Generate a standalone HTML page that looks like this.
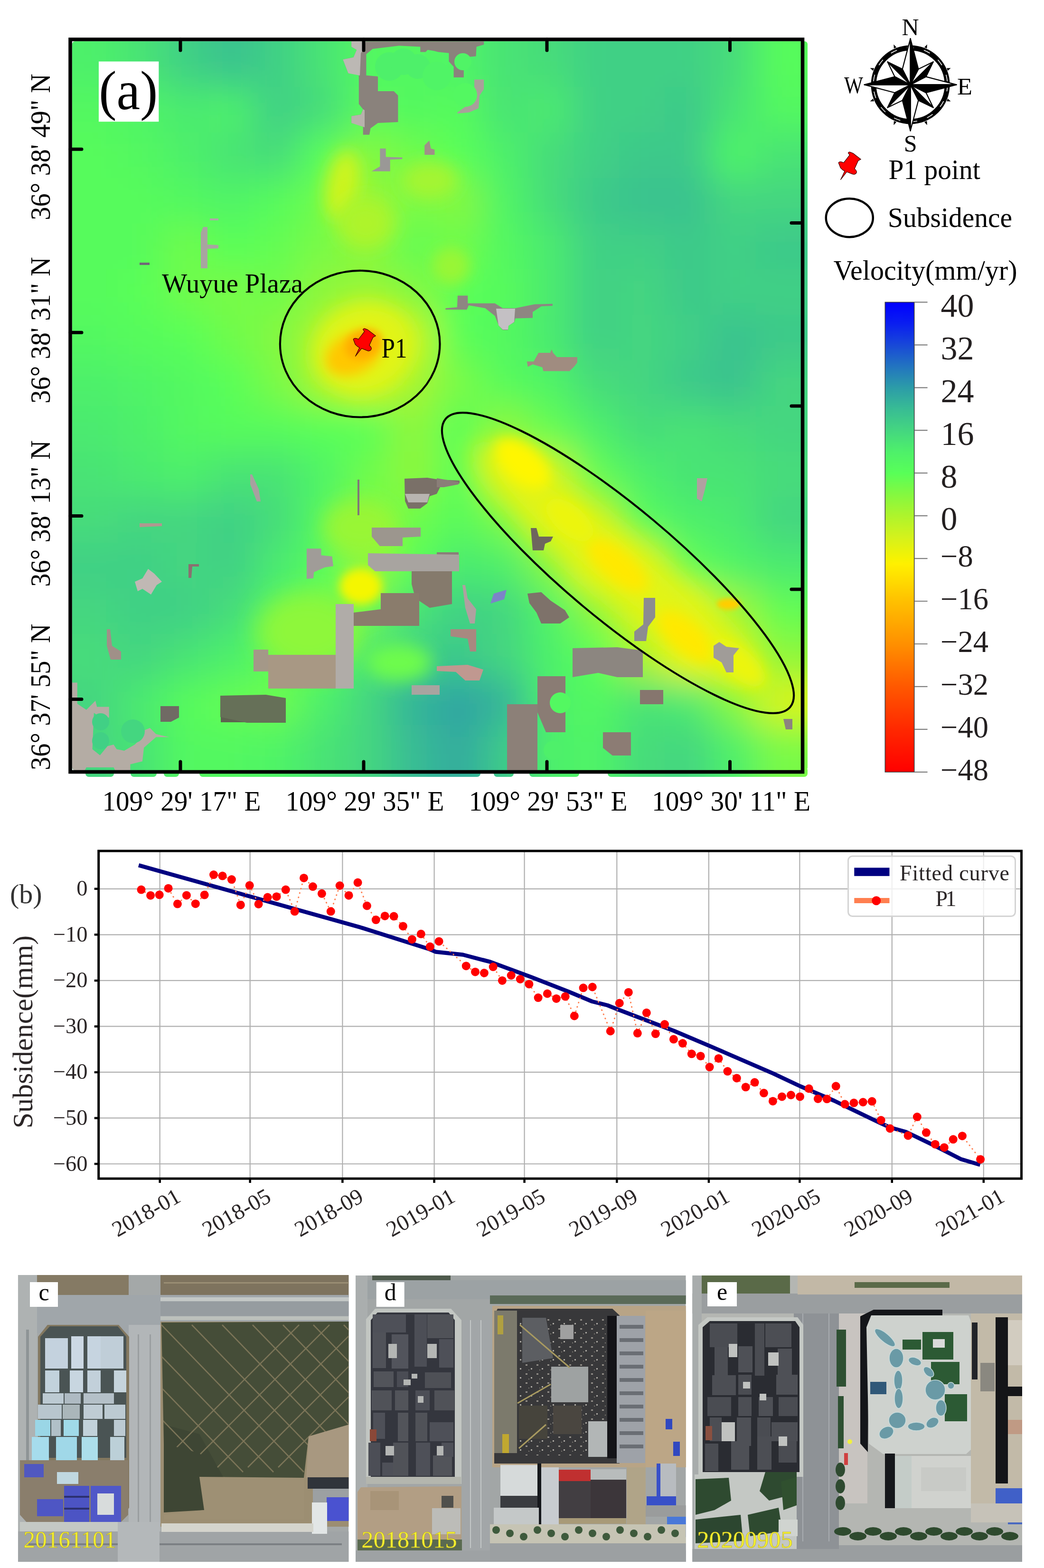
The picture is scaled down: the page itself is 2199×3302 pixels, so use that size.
<!DOCTYPE html><html><head><meta charset="utf-8"><title>Figure</title><style>html,body{margin:0;padding:0;background:#fff;width:2199px;height:3302px;overflow:hidden}svg{display:block}</style></head><body>
<svg width="2199" height="3302" viewBox="0 0 2199 3302">
<rect width="2199" height="3302" fill="#fff"/>
<defs><clipPath id="mapclip"><rect x="152" y="87" width="1549" height="1535" rx="6"/><rect x="180" y="1615" width="60" height="21" rx="7"/><rect x="275" y="1615" width="55" height="21" rx="7"/><rect x="345" y="1615" width="32" height="21" rx="7"/><rect x="420" y="1615" width="592" height="21" rx="7"/><rect x="1040" y="1615" width="42" height="21" rx="7"/><rect x="1115" y="1615" width="105" height="21" rx="7"/><rect x="1280" y="1615" width="421" height="21" rx="7"/></clipPath><clipPath id="innerclip"><rect x="152" y="87" width="1534" height="1535"/></clipPath><filter id="gb" x="-10%" y="-10%" width="120%" height="120%"><feGaussianBlur stdDeviation="38"/></filter></defs>
<filter id="bb0" x="-50%" y="-50%" width="200%" height="200%"><feGaussianBlur stdDeviation="22"/></filter>
<filter id="bb1" x="-50%" y="-50%" width="200%" height="200%"><feGaussianBlur stdDeviation="12"/></filter>
<filter id="bb2" x="-50%" y="-50%" width="200%" height="200%"><feGaussianBlur stdDeviation="8"/></filter>
<filter id="bb3" x="-50%" y="-50%" width="200%" height="200%"><feGaussianBlur stdDeviation="28"/></filter>
<filter id="bb4" x="-50%" y="-50%" width="200%" height="200%"><feGaussianBlur stdDeviation="14"/></filter>
<filter id="bb5" x="-50%" y="-50%" width="200%" height="200%"><feGaussianBlur stdDeviation="14"/></filter>
<filter id="bb6" x="-50%" y="-50%" width="200%" height="200%"><feGaussianBlur stdDeviation="14"/></filter>
<filter id="bb7" x="-50%" y="-50%" width="200%" height="200%"><feGaussianBlur stdDeviation="5"/></filter>
<filter id="bb8" x="-50%" y="-50%" width="200%" height="200%"><feGaussianBlur stdDeviation="12"/></filter>
<filter id="bb9" x="-50%" y="-50%" width="200%" height="200%"><feGaussianBlur stdDeviation="14"/></filter>
<filter id="bb10" x="-50%" y="-50%" width="200%" height="200%"><feGaussianBlur stdDeviation="18"/></filter>
<filter id="bb11" x="-50%" y="-50%" width="200%" height="200%"><feGaussianBlur stdDeviation="20"/></filter>
<filter id="bb12" x="-50%" y="-50%" width="200%" height="200%"><feGaussianBlur stdDeviation="18"/></filter>
<filter id="bb13" x="-50%" y="-50%" width="200%" height="200%"><feGaussianBlur stdDeviation="15"/></filter>
<filter id="bb14" x="-50%" y="-50%" width="200%" height="200%"><feGaussianBlur stdDeviation="25"/></filter>
<filter id="bb15" x="-50%" y="-50%" width="200%" height="200%"><feGaussianBlur stdDeviation="22"/></filter>
<filter id="bb16" x="-50%" y="-50%" width="200%" height="200%"><feGaussianBlur stdDeviation="18"/></filter>
<filter id="bb17" x="-50%" y="-50%" width="200%" height="200%"><feGaussianBlur stdDeviation="10"/></filter>
<g clip-path="url(#mapclip)">
<g filter="url(#gb)"><rect x="56" y="-9" width="97" height="97" fill="#4ef06a"/><rect x="152" y="-9" width="97" height="97" fill="#4ef06a"/><rect x="248" y="-9" width="97" height="97" fill="#49e375"/><rect x="344" y="-9" width="97" height="97" fill="#41d085"/><rect x="440" y="-9" width="97" height="97" fill="#3bc28f"/><rect x="536" y="-9" width="97" height="97" fill="#41d085"/><rect x="632" y="-9" width="97" height="97" fill="#49e375"/><rect x="728" y="-9" width="97" height="97" fill="#53f861"/><rect x="824" y="-9" width="97" height="97" fill="#53f861"/><rect x="920" y="-9" width="97" height="97" fill="#50f466"/><rect x="1016" y="-9" width="97" height="97" fill="#49e375"/><rect x="1112" y="-9" width="97" height="97" fill="#46dc7a"/><rect x="1208" y="-9" width="97" height="97" fill="#41d085"/><rect x="1304" y="-9" width="97" height="97" fill="#41d085"/><rect x="1400" y="-9" width="97" height="97" fill="#41d085"/><rect x="1496" y="-9" width="97" height="97" fill="#46dc7a"/><rect x="1592" y="-9" width="97" height="97" fill="#56fb5c"/><rect x="1688" y="-9" width="97" height="97" fill="#56fb5c"/><rect x="56" y="87" width="97" height="97" fill="#4ef06a"/><rect x="152" y="87" width="97" height="97" fill="#4ef06a"/><rect x="248" y="87" width="97" height="97" fill="#49e375"/><rect x="344" y="87" width="97" height="97" fill="#41d085"/><rect x="440" y="87" width="97" height="97" fill="#3bc28f"/><rect x="536" y="87" width="97" height="97" fill="#41d085"/><rect x="632" y="87" width="97" height="97" fill="#49e375"/><rect x="728" y="87" width="97" height="97" fill="#53f861"/><rect x="824" y="87" width="97" height="97" fill="#53f861"/><rect x="920" y="87" width="97" height="97" fill="#50f466"/><rect x="1016" y="87" width="97" height="97" fill="#49e375"/><rect x="1112" y="87" width="97" height="97" fill="#46dc7a"/><rect x="1208" y="87" width="97" height="97" fill="#41d085"/><rect x="1304" y="87" width="97" height="97" fill="#41d085"/><rect x="1400" y="87" width="97" height="97" fill="#41d085"/><rect x="1496" y="87" width="97" height="97" fill="#46dc7a"/><rect x="1592" y="87" width="97" height="97" fill="#56fb5c"/><rect x="1688" y="87" width="97" height="97" fill="#56fb5c"/><rect x="56" y="183" width="97" height="97" fill="#53f861"/><rect x="152" y="183" width="97" height="97" fill="#53f861"/><rect x="248" y="183" width="97" height="97" fill="#50f466"/><rect x="344" y="183" width="97" height="97" fill="#4cea70"/><rect x="440" y="183" width="97" height="97" fill="#4ef06a"/><rect x="536" y="183" width="97" height="97" fill="#41d085"/><rect x="632" y="183" width="97" height="97" fill="#46dc7a"/><rect x="728" y="183" width="97" height="97" fill="#56fb5c"/><rect x="824" y="183" width="97" height="97" fill="#53f861"/><rect x="920" y="183" width="97" height="97" fill="#56fb5c"/><rect x="1016" y="183" width="97" height="97" fill="#49e375"/><rect x="1112" y="183" width="97" height="97" fill="#4cea70"/><rect x="1208" y="183" width="97" height="97" fill="#41d085"/><rect x="1304" y="183" width="97" height="97" fill="#41d085"/><rect x="1400" y="183" width="97" height="97" fill="#3ec98a"/><rect x="1496" y="183" width="97" height="97" fill="#49e375"/><rect x="1592" y="183" width="97" height="97" fill="#53f861"/><rect x="1688" y="183" width="97" height="97" fill="#53f861"/><rect x="56" y="279" width="97" height="97" fill="#56fb5c"/><rect x="152" y="279" width="97" height="97" fill="#56fb5c"/><rect x="248" y="279" width="97" height="97" fill="#53f861"/><rect x="344" y="279" width="97" height="97" fill="#4ef06a"/><rect x="440" y="279" width="97" height="97" fill="#49e375"/><rect x="536" y="279" width="97" height="97" fill="#46dc7a"/><rect x="632" y="279" width="97" height="97" fill="#58ff58"/><rect x="728" y="279" width="97" height="97" fill="#84f840"/><rect x="824" y="279" width="97" height="97" fill="#6efc4c"/><rect x="920" y="279" width="97" height="97" fill="#58ff58"/><rect x="1016" y="279" width="97" height="97" fill="#4ef06a"/><rect x="1112" y="279" width="97" height="97" fill="#46dc7a"/><rect x="1208" y="279" width="97" height="97" fill="#41d085"/><rect x="1304" y="279" width="97" height="97" fill="#3ec98a"/><rect x="1400" y="279" width="97" height="97" fill="#3ec98a"/><rect x="1496" y="279" width="97" height="97" fill="#50f466"/><rect x="1592" y="279" width="97" height="97" fill="#49e375"/><rect x="1688" y="279" width="97" height="97" fill="#49e375"/><rect x="56" y="375" width="97" height="97" fill="#56fb5c"/><rect x="152" y="375" width="97" height="97" fill="#56fb5c"/><rect x="248" y="375" width="97" height="97" fill="#56fb5c"/><rect x="344" y="375" width="97" height="97" fill="#53f861"/><rect x="440" y="375" width="97" height="97" fill="#50f466"/><rect x="536" y="375" width="97" height="97" fill="#56fb5c"/><rect x="632" y="375" width="97" height="97" fill="#6efc4c"/><rect x="728" y="375" width="97" height="97" fill="#99f636"/><rect x="824" y="375" width="97" height="97" fill="#79fa46"/><rect x="920" y="375" width="97" height="97" fill="#84f840"/><rect x="1016" y="375" width="97" height="97" fill="#50f466"/><rect x="1112" y="375" width="97" height="97" fill="#46dc7a"/><rect x="1208" y="375" width="97" height="97" fill="#3ec98a"/><rect x="1304" y="375" width="97" height="97" fill="#3bc28f"/><rect x="1400" y="375" width="97" height="97" fill="#3bc28f"/><rect x="1496" y="375" width="97" height="97" fill="#44d680"/><rect x="1592" y="375" width="97" height="97" fill="#44d680"/><rect x="1688" y="375" width="97" height="97" fill="#44d680"/><rect x="56" y="471" width="97" height="97" fill="#56fb5c"/><rect x="152" y="471" width="97" height="97" fill="#56fb5c"/><rect x="248" y="471" width="97" height="97" fill="#56fb5c"/><rect x="344" y="471" width="97" height="97" fill="#6efc4c"/><rect x="440" y="471" width="97" height="97" fill="#58ff58"/><rect x="536" y="471" width="97" height="97" fill="#63fd52"/><rect x="632" y="471" width="97" height="97" fill="#79fa46"/><rect x="728" y="471" width="97" height="97" fill="#84f840"/><rect x="824" y="471" width="97" height="97" fill="#63fd52"/><rect x="920" y="471" width="97" height="97" fill="#6efc4c"/><rect x="1016" y="471" width="97" height="97" fill="#53f861"/><rect x="1112" y="471" width="97" height="97" fill="#4cea70"/><rect x="1208" y="471" width="97" height="97" fill="#41d085"/><rect x="1304" y="471" width="97" height="97" fill="#41d085"/><rect x="1400" y="471" width="97" height="97" fill="#3ec98a"/><rect x="1496" y="471" width="97" height="97" fill="#41d085"/><rect x="1592" y="471" width="97" height="97" fill="#3ec98a"/><rect x="1688" y="471" width="97" height="97" fill="#3ec98a"/><rect x="56" y="567" width="97" height="97" fill="#56fb5c"/><rect x="152" y="567" width="97" height="97" fill="#56fb5c"/><rect x="248" y="567" width="97" height="97" fill="#58ff58"/><rect x="344" y="567" width="97" height="97" fill="#6efc4c"/><rect x="440" y="567" width="97" height="97" fill="#79fa46"/><rect x="536" y="567" width="97" height="97" fill="#6efc4c"/><rect x="632" y="567" width="97" height="97" fill="#8ef73b"/><rect x="728" y="567" width="97" height="97" fill="#99f636"/><rect x="824" y="567" width="97" height="97" fill="#84f840"/><rect x="920" y="567" width="97" height="97" fill="#58ff58"/><rect x="1016" y="567" width="97" height="97" fill="#56fb5c"/><rect x="1112" y="567" width="97" height="97" fill="#4cea70"/><rect x="1208" y="567" width="97" height="97" fill="#41d085"/><rect x="1304" y="567" width="97" height="97" fill="#44d680"/><rect x="1400" y="567" width="97" height="97" fill="#3ec98a"/><rect x="1496" y="567" width="97" height="97" fill="#41d085"/><rect x="1592" y="567" width="97" height="97" fill="#41d085"/><rect x="1688" y="567" width="97" height="97" fill="#41d085"/><rect x="56" y="663" width="97" height="97" fill="#53f861"/><rect x="152" y="663" width="97" height="97" fill="#53f861"/><rect x="248" y="663" width="97" height="97" fill="#56fb5c"/><rect x="344" y="663" width="97" height="97" fill="#58ff58"/><rect x="440" y="663" width="97" height="97" fill="#6efc4c"/><rect x="536" y="663" width="97" height="97" fill="#84f840"/><rect x="632" y="663" width="97" height="97" fill="#a4f531"/><rect x="728" y="663" width="97" height="97" fill="#d8f418"/><rect x="824" y="663" width="97" height="97" fill="#c3f422"/><rect x="920" y="663" width="97" height="97" fill="#58ff58"/><rect x="1016" y="663" width="97" height="97" fill="#53f861"/><rect x="1112" y="663" width="97" height="97" fill="#4cea70"/><rect x="1208" y="663" width="97" height="97" fill="#41d085"/><rect x="1304" y="663" width="97" height="97" fill="#44d680"/><rect x="1400" y="663" width="97" height="97" fill="#41d085"/><rect x="1496" y="663" width="97" height="97" fill="#3bc28f"/><rect x="1592" y="663" width="97" height="97" fill="#3ec98a"/><rect x="1688" y="663" width="97" height="97" fill="#3ec98a"/><rect x="56" y="759" width="97" height="97" fill="#4ef06a"/><rect x="152" y="759" width="97" height="97" fill="#4ef06a"/><rect x="248" y="759" width="97" height="97" fill="#50f466"/><rect x="344" y="759" width="97" height="97" fill="#53f861"/><rect x="440" y="759" width="97" height="97" fill="#58ff58"/><rect x="536" y="759" width="97" height="97" fill="#79fa46"/><rect x="632" y="759" width="97" height="97" fill="#a4f531"/><rect x="728" y="759" width="97" height="97" fill="#c3f422"/><rect x="824" y="759" width="97" height="97" fill="#a4f531"/><rect x="920" y="759" width="97" height="97" fill="#79fa46"/><rect x="1016" y="759" width="97" height="97" fill="#56fb5c"/><rect x="1112" y="759" width="97" height="97" fill="#50f466"/><rect x="1208" y="759" width="97" height="97" fill="#46dc7a"/><rect x="1304" y="759" width="97" height="97" fill="#44d680"/><rect x="1400" y="759" width="97" height="97" fill="#3ec98a"/><rect x="1496" y="759" width="97" height="97" fill="#3bc28f"/><rect x="1592" y="759" width="97" height="97" fill="#44d680"/><rect x="1688" y="759" width="97" height="97" fill="#44d680"/><rect x="56" y="855" width="97" height="97" fill="#4cea70"/><rect x="152" y="855" width="97" height="97" fill="#4cea70"/><rect x="248" y="855" width="97" height="97" fill="#4ef06a"/><rect x="344" y="855" width="97" height="97" fill="#53f861"/><rect x="440" y="855" width="97" height="97" fill="#56fb5c"/><rect x="536" y="855" width="97" height="97" fill="#56fb5c"/><rect x="632" y="855" width="97" height="97" fill="#58ff58"/><rect x="728" y="855" width="97" height="97" fill="#58ff58"/><rect x="824" y="855" width="97" height="97" fill="#8ef73b"/><rect x="920" y="855" width="97" height="97" fill="#58ff58"/><rect x="1016" y="855" width="97" height="97" fill="#8ef73b"/><rect x="1112" y="855" width="97" height="97" fill="#63fd52"/><rect x="1208" y="855" width="97" height="97" fill="#4ef06a"/><rect x="1304" y="855" width="97" height="97" fill="#46dc7a"/><rect x="1400" y="855" width="97" height="97" fill="#49e375"/><rect x="1496" y="855" width="97" height="97" fill="#46dc7a"/><rect x="1592" y="855" width="97" height="97" fill="#44d680"/><rect x="1688" y="855" width="97" height="97" fill="#44d680"/><rect x="56" y="951" width="97" height="97" fill="#49e375"/><rect x="152" y="951" width="97" height="97" fill="#49e375"/><rect x="248" y="951" width="97" height="97" fill="#4cea70"/><rect x="344" y="951" width="97" height="97" fill="#4ef06a"/><rect x="440" y="951" width="97" height="97" fill="#49e375"/><rect x="536" y="951" width="97" height="97" fill="#49e375"/><rect x="632" y="951" width="97" height="97" fill="#50f466"/><rect x="728" y="951" width="97" height="97" fill="#6efc4c"/><rect x="824" y="951" width="97" height="97" fill="#8ef73b"/><rect x="920" y="951" width="97" height="97" fill="#58ff58"/><rect x="1016" y="951" width="97" height="97" fill="#c3f422"/><rect x="1112" y="951" width="97" height="97" fill="#cef41d"/><rect x="1208" y="951" width="97" height="97" fill="#63fd52"/><rect x="1304" y="951" width="97" height="97" fill="#4ef06a"/><rect x="1400" y="951" width="97" height="97" fill="#49e375"/><rect x="1496" y="951" width="97" height="97" fill="#49e375"/><rect x="1592" y="951" width="97" height="97" fill="#46dc7a"/><rect x="1688" y="951" width="97" height="97" fill="#46dc7a"/><rect x="56" y="1047" width="97" height="97" fill="#46dc7a"/><rect x="152" y="1047" width="97" height="97" fill="#46dc7a"/><rect x="248" y="1047" width="97" height="97" fill="#44d680"/><rect x="344" y="1047" width="97" height="97" fill="#44d680"/><rect x="440" y="1047" width="97" height="97" fill="#41d085"/><rect x="536" y="1047" width="97" height="97" fill="#46dc7a"/><rect x="632" y="1047" width="97" height="97" fill="#53f861"/><rect x="728" y="1047" width="97" height="97" fill="#79fa46"/><rect x="824" y="1047" width="97" height="97" fill="#6efc4c"/><rect x="920" y="1047" width="97" height="97" fill="#56fb5c"/><rect x="1016" y="1047" width="97" height="97" fill="#79fa46"/><rect x="1112" y="1047" width="97" height="97" fill="#c3f422"/><rect x="1208" y="1047" width="97" height="97" fill="#b8f427"/><rect x="1304" y="1047" width="97" height="97" fill="#56fb5c"/><rect x="1400" y="1047" width="97" height="97" fill="#4ef06a"/><rect x="1496" y="1047" width="97" height="97" fill="#4cea70"/><rect x="1592" y="1047" width="97" height="97" fill="#44d680"/><rect x="1688" y="1047" width="97" height="97" fill="#44d680"/><rect x="56" y="1143" width="97" height="97" fill="#41d085"/><rect x="152" y="1143" width="97" height="97" fill="#41d085"/><rect x="248" y="1143" width="97" height="97" fill="#41d085"/><rect x="344" y="1143" width="97" height="97" fill="#44d680"/><rect x="440" y="1143" width="97" height="97" fill="#41d085"/><rect x="536" y="1143" width="97" height="97" fill="#4cea70"/><rect x="632" y="1143" width="97" height="97" fill="#56fb5c"/><rect x="728" y="1143" width="97" height="97" fill="#99f636"/><rect x="824" y="1143" width="97" height="97" fill="#58ff58"/><rect x="920" y="1143" width="97" height="97" fill="#4cea70"/><rect x="1016" y="1143" width="97" height="97" fill="#4ef06a"/><rect x="1112" y="1143" width="97" height="97" fill="#84f840"/><rect x="1208" y="1143" width="97" height="97" fill="#e2f412"/><rect x="1304" y="1143" width="97" height="97" fill="#cef41d"/><rect x="1400" y="1143" width="97" height="97" fill="#63fd52"/><rect x="1496" y="1143" width="97" height="97" fill="#50f466"/><rect x="1592" y="1143" width="97" height="97" fill="#4cea70"/><rect x="1688" y="1143" width="97" height="97" fill="#4cea70"/><rect x="56" y="1239" width="97" height="97" fill="#44d680"/><rect x="152" y="1239" width="97" height="97" fill="#44d680"/><rect x="248" y="1239" width="97" height="97" fill="#41d085"/><rect x="344" y="1239" width="97" height="97" fill="#41d085"/><rect x="440" y="1239" width="97" height="97" fill="#46dc7a"/><rect x="536" y="1239" width="97" height="97" fill="#50f466"/><rect x="632" y="1239" width="97" height="97" fill="#63fd52"/><rect x="728" y="1239" width="97" height="97" fill="#6efc4c"/><rect x="824" y="1239" width="97" height="97" fill="#49e375"/><rect x="920" y="1239" width="97" height="97" fill="#41d085"/><rect x="1016" y="1239" width="97" height="97" fill="#44d680"/><rect x="1112" y="1239" width="97" height="97" fill="#50f466"/><rect x="1208" y="1239" width="97" height="97" fill="#8ef73b"/><rect x="1304" y="1239" width="97" height="97" fill="#cef41d"/><rect x="1400" y="1239" width="97" height="97" fill="#e2f412"/><rect x="1496" y="1239" width="97" height="97" fill="#a4f531"/><rect x="1592" y="1239" width="97" height="97" fill="#63fd52"/><rect x="1688" y="1239" width="97" height="97" fill="#63fd52"/><rect x="56" y="1335" width="97" height="97" fill="#46dc7a"/><rect x="152" y="1335" width="97" height="97" fill="#46dc7a"/><rect x="248" y="1335" width="97" height="97" fill="#44d680"/><rect x="344" y="1335" width="97" height="97" fill="#49e375"/><rect x="440" y="1335" width="97" height="97" fill="#4ef06a"/><rect x="536" y="1335" width="97" height="97" fill="#56fb5c"/><rect x="632" y="1335" width="97" height="97" fill="#56fb5c"/><rect x="728" y="1335" width="97" height="97" fill="#49e375"/><rect x="824" y="1335" width="97" height="97" fill="#41d085"/><rect x="920" y="1335" width="97" height="97" fill="#3ec98a"/><rect x="1016" y="1335" width="97" height="97" fill="#44d680"/><rect x="1112" y="1335" width="97" height="97" fill="#4ef06a"/><rect x="1208" y="1335" width="97" height="97" fill="#58ff58"/><rect x="1304" y="1335" width="97" height="97" fill="#aef42c"/><rect x="1400" y="1335" width="97" height="97" fill="#ecf50c"/><rect x="1496" y="1335" width="97" height="97" fill="#cef41d"/><rect x="1592" y="1335" width="97" height="97" fill="#8ef73b"/><rect x="1688" y="1335" width="97" height="97" fill="#8ef73b"/><rect x="56" y="1431" width="97" height="97" fill="#44d680"/><rect x="152" y="1431" width="97" height="97" fill="#44d680"/><rect x="248" y="1431" width="97" height="97" fill="#4cea70"/><rect x="344" y="1431" width="97" height="97" fill="#56fb5c"/><rect x="440" y="1431" width="97" height="97" fill="#63fd52"/><rect x="536" y="1431" width="97" height="97" fill="#6efc4c"/><rect x="632" y="1431" width="97" height="97" fill="#4ef06a"/><rect x="728" y="1431" width="97" height="97" fill="#44d680"/><rect x="824" y="1431" width="97" height="97" fill="#35b499"/><rect x="920" y="1431" width="97" height="97" fill="#2fa4a3"/><rect x="1016" y="1431" width="97" height="97" fill="#35b499"/><rect x="1112" y="1431" width="97" height="97" fill="#4ef06a"/><rect x="1208" y="1431" width="97" height="97" fill="#53f861"/><rect x="1304" y="1431" width="97" height="97" fill="#49e375"/><rect x="1400" y="1431" width="97" height="97" fill="#4cea70"/><rect x="1496" y="1431" width="97" height="97" fill="#84f840"/><rect x="1592" y="1431" width="97" height="97" fill="#d8f418"/><rect x="1688" y="1431" width="97" height="97" fill="#d8f418"/><rect x="56" y="1527" width="97" height="97" fill="#44d680"/><rect x="152" y="1527" width="97" height="97" fill="#44d680"/><rect x="248" y="1527" width="97" height="97" fill="#49e375"/><rect x="344" y="1527" width="97" height="97" fill="#53f861"/><rect x="440" y="1527" width="97" height="97" fill="#53f861"/><rect x="536" y="1527" width="97" height="97" fill="#50f466"/><rect x="632" y="1527" width="97" height="97" fill="#49e375"/><rect x="728" y="1527" width="97" height="97" fill="#44d680"/><rect x="824" y="1527" width="97" height="97" fill="#38bc94"/><rect x="920" y="1527" width="97" height="97" fill="#32ac9e"/><rect x="1016" y="1527" width="97" height="97" fill="#3ec98a"/><rect x="1112" y="1527" width="97" height="97" fill="#4ef06a"/><rect x="1208" y="1527" width="97" height="97" fill="#50f466"/><rect x="1304" y="1527" width="97" height="97" fill="#46dc7a"/><rect x="1400" y="1527" width="97" height="97" fill="#44d680"/><rect x="1496" y="1527" width="97" height="97" fill="#4ef06a"/><rect x="1592" y="1527" width="97" height="97" fill="#79fa46"/><rect x="1688" y="1527" width="97" height="97" fill="#79fa46"/><rect x="56" y="1623" width="97" height="97" fill="#44d680"/><rect x="152" y="1623" width="97" height="97" fill="#44d680"/><rect x="248" y="1623" width="97" height="97" fill="#49e375"/><rect x="344" y="1623" width="97" height="97" fill="#53f861"/><rect x="440" y="1623" width="97" height="97" fill="#53f861"/><rect x="536" y="1623" width="97" height="97" fill="#50f466"/><rect x="632" y="1623" width="97" height="97" fill="#49e375"/><rect x="728" y="1623" width="97" height="97" fill="#44d680"/><rect x="824" y="1623" width="97" height="97" fill="#38bc94"/><rect x="920" y="1623" width="97" height="97" fill="#32ac9e"/><rect x="1016" y="1623" width="97" height="97" fill="#3ec98a"/><rect x="1112" y="1623" width="97" height="97" fill="#4ef06a"/><rect x="1208" y="1623" width="97" height="97" fill="#50f466"/><rect x="1304" y="1623" width="97" height="97" fill="#46dc7a"/><rect x="1400" y="1623" width="97" height="97" fill="#44d680"/><rect x="1496" y="1623" width="97" height="97" fill="#4ef06a"/><rect x="1592" y="1623" width="97" height="97" fill="#79fa46"/><rect x="1688" y="1623" width="97" height="97" fill="#79fa46"/></g>
<ellipse cx="765" cy="735" rx="110" ry="95" transform="rotate(-20 765 735)" fill="#e2f412" filter="url(#bb0)"/>
<ellipse cx="745" cy="745" rx="62" ry="42" transform="rotate(-25 745 745)" fill="#ffc700" filter="url(#bb1)"/>
<ellipse cx="765" cy="725" rx="40" ry="30" transform="rotate(-25 765 725)" fill="#ffae00" filter="url(#bb2)"/>
<ellipse cx="1300" cy="1190" rx="390" ry="62" transform="rotate(40 1300 1190)" fill="#e2f412" filter="url(#bb3)"/>
<ellipse cx="1100" cy="975" rx="70" ry="40" transform="rotate(40 1100 975)" fill="#fff600" filter="url(#bb4)"/>
<ellipse cx="1300" cy="1190" rx="80" ry="34" transform="rotate(40 1300 1190)" fill="#ffe900" filter="url(#bb5)"/>
<ellipse cx="1445" cy="1340" rx="75" ry="34" transform="rotate(40 1445 1340)" fill="#ffe900" filter="url(#bb6)"/>
<ellipse cx="1535" cy="1272" rx="25" ry="12" transform="rotate(0 1535 1272)" fill="#ffce00" filter="url(#bb7)"/>
<ellipse cx="1200" cy="1095" rx="60" ry="30" transform="rotate(40 1200 1095)" fill="#ecf50c" filter="url(#bb8)"/>
<ellipse cx="1555" cy="1395" rx="70" ry="30" transform="rotate(40 1555 1395)" fill="#ecf50c" filter="url(#bb9)"/>
<ellipse cx="722" cy="390" rx="35" ry="75" transform="rotate(10 722 390)" fill="#cef41d" filter="url(#bb10)"/>
<ellipse cx="770" cy="470" rx="60" ry="55" transform="rotate(0 770 470)" fill="#aef42c" filter="url(#bb11)"/>
<ellipse cx="905" cy="380" rx="60" ry="40" transform="rotate(0 905 380)" fill="#a4f531" filter="url(#bb12)"/>
<ellipse cx="950" cy="560" rx="40" ry="40" transform="rotate(0 950 560)" fill="#99f636" filter="url(#bb13)"/>
<ellipse cx="650" cy="1330" rx="110" ry="85" transform="rotate(0 650 1330)" fill="#8ef73b" filter="url(#bb14)"/>
<ellipse cx="760" cy="1110" rx="80" ry="60" transform="rotate(0 760 1110)" fill="#99f636" filter="url(#bb15)"/>
<ellipse cx="840" cy="1395" rx="70" ry="40" transform="rotate(0 840 1395)" fill="#6efc4c" filter="url(#bb16)"/>
<ellipse cx="760" cy="1235" rx="45" ry="38" transform="rotate(0 760 1235)" fill="#f5f606" filter="url(#bb17)"/>
<g clip-path="url(#innerclip)">
<polygon points="740.2,87.2 1019.2,87.2 1019.2,93.9 1003.6,98.4 1002.5,118.5 976.8,120.7 976.8,163.1 955.6,163.1 955.6,140.8 945.5,129.6 945.5,111.8 923.2,109.6 914.3,107.3 900.9,105.1 896.4,109.6 885.3,109.6 885.3,98.4 840.6,96.2 784.8,102.9 771.4,114.0 771.4,158.7 796.0,160.9 796.0,192.1 829.5,192.1 838.4,201.1 838.4,256.9 796.0,259.1 780.4,270.3 778.1,283.7 764.7,283.7 764.7,265.8 740.2,259.1 740.2,244.6 760.3,241.3 764.7,230.1 755.8,218.9 755.8,156.4 733.5,154.2 722.3,125.2 744.6,120.7 751.3,105.1 740.2,98.4" fill="#8a827c"/>
<polygon points="740.2,87.2 770.0,87.2 768.0,100.0 760.0,112.0 758.0,159.0 733.5,154.2 722.3,125.2 744.6,120.7 751.3,105.1 740.2,98.4" fill="#bcb8b4"/>
<polygon points="740.2,244.6 760.3,241.3 764.7,230.1 768.0,232.0 768.0,268.0 740.2,259.1" fill="#b8b2ac"/>
<polygon points="999.1,167.6 1019.2,167.6 1019.2,187.7 1010.3,201.1 1008.0,227.9 988.0,236.8 963.4,239.0 963.4,236.8 988.0,218.9 996.9,205.5 999.1,192.1" fill="#a8a09a"/>
<polygon points="800.4,312.7 812.7,312.7 812.7,330.5 847.3,331.6 847.3,335.0 821.7,336.1 821.7,360.7 782.6,360.7 800.4,350.6" fill="#9a9896"/>
<polygon points="894.2,306.0 904.2,296.0 907.6,312.7 915.4,314.9 915.4,326.1 894.2,326.1" fill="#a09088"/>
<polygon points="423.0,490.0 428.0,478.0 437.0,478.0 437.0,515.0 460.0,516.0 460.0,523.0 437.0,524.0 437.0,565.0 423.0,565.0" fill="#a8a4a0"/>
<polygon points="294.0,553.0 315.0,553.0 315.0,558.0 294.0,558.0" fill="#706878"/>
<polygon points="442.0,460.0 460.0,460.0 460.0,464.0 442.0,464.0" fill="#b0a8a8"/>
<polygon points="938.4,649.0 962.9,646.9 963.9,622.4 985.3,622.4 985.3,638.8 1042.4,638.8 1058.8,649.0 1085.3,649.0 1126.1,640.8 1163.9,639.8 1163.9,643.9 1140.4,644.9 1122.0,657.1 1122.0,669.4 1085.3,670.4 1083.3,678.6 1071.0,685.7 1070.0,694.9 1058.8,694.9 1050.6,685.7 1042.4,665.3 1022.0,649.0 987.3,642.9 983.3,652.0 938.4,652.0" fill="#8e8682"/>
<polygon points="1045.0,650.0 1085.0,650.0 1083.0,678.0 1071.0,686.0 1070.0,694.0 1059.0,694.0 1050.0,685.0" fill="#c4c0c4"/>
<polygon points="1109.8,761.2 1124.1,761.2 1134.3,742.9 1158.8,742.9 1161.8,735.7 1164.9,742.9 1173.1,752.0 1215.9,752.0 1215.9,763.3 1209.8,771.4 1199.6,781.6 1144.5,781.6 1142.4,773.5 1122.0,767.3 1111.8,772.4" fill="#a08c80"/>
<polygon points="852.0,1008.0 900.0,1006.0 925.0,1010.0 968.0,1012.0 968.0,1018.0 930.0,1020.0 920.0,1040.0 905.0,1045.0 900.0,1060.0 885.0,1071.0 860.0,1071.0 853.0,1055.0" fill="#7a7068"/>
<polygon points="853.0,1040.0 905.0,1040.0 900.0,1058.0 860.0,1058.0" fill="#b8b4b0"/>
<polygon points="753.0,1010.0 757.0,1010.0 757.0,1085.0 753.0,1085.0" fill="#807878"/>
<polygon points="645.9,1155.3 676.5,1155.3 676.5,1169.3 699.5,1171.8 702.0,1192.2 684.2,1194.8 661.2,1205.0 660.0,1217.8 645.9,1219.0" fill="#a09c98"/>
<polygon points="465.0,1487.0 583.0,1487.0 583.0,1521.0 465.0,1521.0" fill="#5e6250"/>
<polygon points="338.0,1487.0 377.0,1487.0 377.0,1511.0 360.0,1520.0 338.0,1520.0" fill="#706a64"/>
<polygon points="150.0,1437.4 162.8,1437.4 162.8,1482.0 181.9,1494.8 201.0,1475.7 204.2,1488.4 229.7,1488.4 229.7,1510.7 217.0,1513.9 197.8,1501.2 194.6,1577.7 210.6,1590.5 226.5,1571.3 239.3,1568.1 245.7,1577.7 261.6,1580.9 283.9,1568.1 293.5,1558.6 293.5,1539.4 299.9,1539.4 315.8,1533.1 328.6,1545.8 341.3,1549.0 357.3,1552.2 328.6,1552.2 303.1,1574.5 299.9,1603.2 274.4,1609.6 274.4,1622.0 242.5,1622.0 239.3,1616.0 181.9,1616.0 178.7,1622.0 150.0,1622.0" fill="#b4aca4"/>
<polygon points="284.0,1225.0 300.0,1218.0 312.0,1198.0 325.0,1208.0 341.0,1225.0 330.0,1232.0 318.0,1252.0 300.0,1240.0 290.0,1245.0" fill="#c0b8b4"/>
<polygon points="397.0,1188.0 419.0,1188.0 419.0,1193.0 405.0,1193.0 403.0,1217.0 397.0,1217.0" fill="#8a7070"/>
<polygon points="294.0,1102.0 341.0,1102.0 341.0,1108.0 294.0,1110.0" fill="#b09890"/>
<polygon points="527.0,999.0 531.0,999.0 545.0,1030.0 549.0,1056.0 541.0,1056.0 527.0,1020.0" fill="#a8a0a0"/>
<polygon points="225.0,1325.0 232.0,1325.0 236.0,1360.0 255.0,1372.0 255.0,1389.0 233.0,1389.0 225.0,1360.0" fill="#a09088"/>
<polygon points="1118.0,1112.0 1130.0,1112.0 1135.0,1130.0 1165.0,1130.0 1160.0,1140.0 1148.0,1145.0 1145.0,1159.0 1122.0,1159.0" fill="#6e665e"/>
<polygon points="1356.0,1259.0 1380.0,1259.0 1380.0,1300.0 1365.0,1320.0 1361.0,1350.0 1336.0,1350.0 1336.0,1330.0 1355.0,1315.0" fill="#8c8c90"/>
<polygon points="1503.0,1360.0 1515.0,1352.0 1530.0,1362.0 1557.0,1365.0 1545.0,1380.0 1545.0,1416.0 1530.0,1416.0 1520.0,1395.0 1503.0,1385.0" fill="#a09c98"/>
<polygon points="920.0,1163.0 966.0,1163.0 966.0,1185.0 950.0,1190.0 948.0,1261.0 920.0,1261.0" fill="#8a7e78"/>
<polygon points="920.0,1007.0 966.0,1015.0 966.0,1020.0 935.0,1026.0 920.0,1026.0" fill="#8a7e78"/>
<polygon points="1040.0,1250.0 1067.0,1242.0 1062.0,1262.0 1033.0,1271.0" fill="#7c84c8"/>
<polygon points="1111.0,1250.0 1140.0,1247.0 1160.0,1265.0 1190.0,1285.0 1199.0,1300.0 1180.0,1313.0 1140.0,1313.0 1130.0,1290.0 1115.0,1270.0" fill="#7e726a"/>
<polygon points="974.0,1232.0 980.0,1232.0 985.0,1260.0 1003.0,1283.0 1000.0,1313.0 990.0,1313.0 980.0,1280.0" fill="#b0a0a0"/>
<polygon points="949.0,1325.0 1003.0,1325.0 1003.0,1372.0 990.0,1372.0 985.0,1345.0 949.0,1340.0" fill="#a88880"/>
<polygon points="920.0,1403.0 985.0,1400.0 1018.0,1410.0 1010.0,1433.0 980.0,1433.0 960.0,1415.0 920.0,1413.0" fill="#c09890"/>
<polygon points="1650.0,1514.0 1669.0,1514.0 1669.0,1536.0 1655.0,1536.0" fill="#8c8480"/>
<polygon points="1468.0,1007.0 1490.0,1007.0 1485.0,1030.0 1478.0,1056.0 1468.0,1050.0" fill="#b0a0a0"/>
<polygon points="783.0,1111.0 886.0,1111.0 886.0,1130.0 848.0,1132.0 848.0,1150.0 800.0,1150.0 783.0,1130.0" fill="#9c968e"/>
<polygon points="775.0,1165.0 967.0,1168.0 967.0,1203.0 790.0,1203.0 775.0,1190.0" fill="#a8a4a0"/>
<polygon points="867.0,1203.0 952.0,1203.0 952.0,1272.0 905.0,1280.0 875.0,1260.0 867.0,1230.0" fill="#857a6c"/>
<polygon points="802.0,1249.0 883.0,1249.0 883.0,1318.0 745.0,1318.0 745.0,1290.0 802.0,1283.0" fill="#8a7c6c"/>
<polygon points="565.0,1379.0 714.0,1379.0 714.0,1450.0 565.0,1450.0" fill="#a89884"/>
<polygon points="534.0,1368.0 565.0,1368.0 565.0,1414.0 534.0,1414.0" fill="#a49888"/>
<polygon points="707.0,1272.0 745.0,1272.0 745.0,1450.0 707.0,1450.0" fill="#b0aca8"/>
<polygon points="464.0,1465.0 560.0,1463.0 602.0,1470.0 602.0,1522.0 520.0,1522.0 464.0,1510.0" fill="#667058"/>
<polygon points="867.0,1443.0 926.0,1443.0 926.0,1463.0 867.0,1463.0" fill="#a8a4a0"/>
<polygon points="1206.0,1365.0 1300.0,1363.0 1354.0,1370.0 1354.0,1426.0 1300.0,1426.0 1260.0,1417.0 1206.0,1426.0" fill="#8c8680"/>
<polygon points="1068.0,1483.0 1132.0,1483.0 1132.0,1622.0 1068.0,1622.0" fill="#8c8078"/>
<polygon points="1132.0,1424.0 1191.0,1424.0 1191.0,1542.0 1150.0,1542.0 1132.0,1500.0" fill="#8a7c74"/>
<polygon points="1270.0,1542.0 1329.0,1542.0 1329.0,1591.0 1290.0,1591.0 1270.0,1575.0" fill="#8c7c74"/>
<polygon points="1348.0,1453.0 1397.0,1453.0 1397.0,1483.0 1348.0,1483.0" fill="#86766e"/>
<circle cx="820" cy="140" r="30" fill="#4ef06a"/>
<circle cx="850" cy="130" r="28" fill="#4ef06a"/>
<circle cx="880" cy="140" r="26" fill="#4ef06a"/>
<circle cx="920" cy="160" r="30" fill="#50f466"/>
<circle cx="980" cy="200" r="25" fill="#53f861"/>
<circle cx="975" cy="130" r="18" fill="#50f466"/>
<circle cx="1180" cy="1480" r="22" fill="#53f861"/>
<circle cx="1165" cy="1580" r="20" fill="#4ef06a"/>
<circle cx="212" cy="1520" r="18" fill="#41d085"/>
<circle cx="212" cy="1560" r="18" fill="#41d085"/>
<circle cx="280" cy="1540" r="25" fill="#44d680"/>
</g>
</g>
<svg x="207.8" y="129.3" width="126.8" height="127.2" overflow="hidden"><rect width="126.8" height="127.2" fill="#fff"/><text x="0.5" y="101" font-size="117" textLength="124" lengthAdjust="spacingAndGlyphs" font-family="Liberation Serif, serif" fill="#000">(a)</text></svg>
<ellipse cx="758.2" cy="724.2" rx="168.3" ry="154.3" fill="none" stroke="#000" stroke-width="4.2"/>
<ellipse cx="1301.5" cy="1185.5" rx="473" ry="117" transform="rotate(39.9 1301.5 1185.5)" fill="none" stroke="#000" stroke-width="4.2"/>
<path transform="translate(-1022 371.8)" d="M1786.6,322.2 C1787.5,320 1790,319.5 1791.2,320.6 L1796.8,322.8 L1813.2,335.5 L1807.6,338.6 L1799.9,355.4 C1803,358 1805,361 1804,363.5 C1803,367 1798,368 1795.8,366.6 L1783.6,362 L1770.6,378.4 L1779.2,360.4 C1774,358 1771,354 1770.3,353.4 L1766.2,342.7 C1768,340 1772,340 1777,342.7 L1789.7,326.3 Z" fill="#ff0000" stroke="#3a0000" stroke-width="1.2" stroke-linejoin="round"/>
<text x="803.5" y="753.2" font-size="59" textLength="54" lengthAdjust="spacingAndGlyphs" font-family="Liberation Serif, serif" fill="#000">P1</text>
<text x="341" y="616" font-size="56" textLength="297" lengthAdjust="spacingAndGlyphs" font-family="Liberation Serif, serif" fill="#000">Wuyue Plaza</text>
<rect x="148" y="83" width="1542.5" height="1542.5" fill="none" stroke="#000" stroke-width="7.6"/>
<path d="M148 314.3H172M148 700.3H172M148 1086.4H172M148 1472.6H172M380 83V106M380 1625.5V1604M766 83V106M766 1625.5V1604M1152 83V106M1152 1625.5V1604M1537.5 83V106M1537.5 1625.5V1604M1690.5 469.5H1667M1690.5 855H1667M1690.5 1241H1667" stroke="#000" stroke-width="7" stroke-linecap="round"/>
<text transform="translate(105.3 309.40000000000003) rotate(-90)" x="0" y="0" text-anchor="middle" font-size="60" textLength="308.6" lengthAdjust="spacingAndGlyphs" font-family="Liberation Serif, serif" fill="#000">36° 38' 49&quot; N</text>
<text transform="translate(105.3 695.4) rotate(-90)" x="0" y="0" text-anchor="middle" font-size="60" textLength="308.6" lengthAdjust="spacingAndGlyphs" font-family="Liberation Serif, serif" fill="#000">36° 38' 31&quot; N</text>
<text transform="translate(105.3 1081.5) rotate(-90)" x="0" y="0" text-anchor="middle" font-size="60" textLength="308.6" lengthAdjust="spacingAndGlyphs" font-family="Liberation Serif, serif" fill="#000">36° 38' 13&quot; N</text>
<text transform="translate(105.3 1467.6999999999998) rotate(-90)" x="0" y="0" text-anchor="middle" font-size="60" textLength="308.6" lengthAdjust="spacingAndGlyphs" font-family="Liberation Serif, serif" fill="#000">36° 37' 55&quot; N</text>
<text x="382.5" y="1707.4" text-anchor="middle" font-size="59.5" textLength="334" lengthAdjust="spacingAndGlyphs" font-family="Liberation Serif, serif" fill="#000">109° 29' 17&quot; E</text>
<text x="768.5" y="1707.4" text-anchor="middle" font-size="59.5" textLength="334" lengthAdjust="spacingAndGlyphs" font-family="Liberation Serif, serif" fill="#000">109° 29' 35&quot; E</text>
<text x="1154.5" y="1707.4" text-anchor="middle" font-size="59.5" textLength="334" lengthAdjust="spacingAndGlyphs" font-family="Liberation Serif, serif" fill="#000">109° 29' 53&quot; E</text>
<text x="1540.0" y="1707.4" text-anchor="middle" font-size="59.5" textLength="334" lengthAdjust="spacingAndGlyphs" font-family="Liberation Serif, serif" fill="#000">109° 30' 11&quot; E</text>
<path transform="translate(0 0)" d="M1786.6,322.2 C1787.5,320 1790,319.5 1791.2,320.6 L1796.8,322.8 L1813.2,335.5 L1807.6,338.6 L1799.9,355.4 C1803,358 1805,361 1804,363.5 C1803,367 1798,368 1795.8,366.6 L1783.6,362 L1770.6,378.4 L1779.2,360.4 C1774,358 1771,354 1770.3,353.4 L1766.2,342.7 C1768,340 1772,340 1777,342.7 L1789.7,326.3 Z" fill="#ff0000" stroke="#3a0000" stroke-width="1.2" stroke-linejoin="round"/>
<text x="1871.6" y="377.4" font-size="60" textLength="193" lengthAdjust="spacingAndGlyphs" font-family="Liberation Serif, serif" fill="#000">P1 point</text>
<ellipse cx="1789.3" cy="458.7" rx="49.5" ry="40.5" fill="none" stroke="#000" stroke-width="4.5"/>
<text x="1870" y="477.8" font-size="59" textLength="262" lengthAdjust="spacingAndGlyphs" font-family="Liberation Serif, serif" fill="#000">Subsidence</text>
<text x="1755.5" y="589" font-size="60" textLength="387" lengthAdjust="spacingAndGlyphs" font-family="Liberation Serif, serif" fill="#000">Velocity(mm/yr)</text>
<circle cx="1917.6" cy="178.4" r="77.5" fill="none" stroke="#000" stroke-width="11"/>
<circle cx="1917.6" cy="178.4" r="78" fill="none" stroke="#fff" stroke-width="1.6" stroke-dasharray="14 22"/>
<path d="M1952.8,93.4 L1947.0,99.7 L1952.4,102.0Z" fill="#000"/>
<path d="M2002.6,143.2 L1994.0,143.6 L1996.3,149.0Z" fill="#000"/>
<path d="M2002.6,213.6 L1996.3,207.8 L1994.0,213.2Z" fill="#000"/>
<path d="M1952.8,263.4 L1952.4,254.8 L1947.0,257.1Z" fill="#000"/>
<path d="M1882.4,263.4 L1888.2,257.1 L1882.8,254.8Z" fill="#000"/>
<path d="M1832.6,213.6 L1841.2,213.2 L1838.9,207.8Z" fill="#000"/>
<path d="M1832.6,143.2 L1838.9,149.0 L1841.2,143.6Z" fill="#000"/>
<path d="M1882.4,93.4 L1882.8,102.0 L1888.2,99.7Z" fill="#000"/>
<path d="M1917.6,178.4 L1934.4,145.4 L1965.7,130.3Z" fill="#fff" stroke="#000" stroke-width="2.2" stroke-linejoin="round"/>
<path d="M1917.6,178.4 L1950.6,161.6 L1965.7,130.3Z" fill="#000" stroke="#000" stroke-width="2.2" stroke-linejoin="round"/>
<path d="M1917.6,178.4 L1950.6,195.2 L1965.7,226.5Z" fill="#fff" stroke="#000" stroke-width="2.2" stroke-linejoin="round"/>
<path d="M1917.6,178.4 L1934.4,211.4 L1965.7,226.5Z" fill="#000" stroke="#000" stroke-width="2.2" stroke-linejoin="round"/>
<path d="M1917.6,178.4 L1900.8,211.4 L1869.5,226.5Z" fill="#fff" stroke="#000" stroke-width="2.2" stroke-linejoin="round"/>
<path d="M1917.6,178.4 L1884.6,195.2 L1869.5,226.5Z" fill="#000" stroke="#000" stroke-width="2.2" stroke-linejoin="round"/>
<path d="M1917.6,178.4 L1884.6,161.6 L1869.5,130.3Z" fill="#fff" stroke="#000" stroke-width="2.2" stroke-linejoin="round"/>
<path d="M1917.6,178.4 L1900.8,145.4 L1869.5,130.3Z" fill="#000" stroke="#000" stroke-width="2.2" stroke-linejoin="round"/>
<path d="M1917.6,178.4 L1900.8,145.4 L1917.6,81.4Z" fill="#fff" stroke="#000" stroke-width="2.2" stroke-linejoin="round"/>
<path d="M1917.6,178.4 L1934.4,145.4 L1917.6,81.4Z" fill="#000" stroke="#000" stroke-width="2.2" stroke-linejoin="round"/>
<path d="M1917.6,178.4 L1950.6,161.6 L2014.6,178.4Z" fill="#fff" stroke="#000" stroke-width="2.2" stroke-linejoin="round"/>
<path d="M1917.6,178.4 L1950.6,195.2 L2014.6,178.4Z" fill="#000" stroke="#000" stroke-width="2.2" stroke-linejoin="round"/>
<path d="M1917.6,178.4 L1934.4,211.4 L1917.6,275.4Z" fill="#fff" stroke="#000" stroke-width="2.2" stroke-linejoin="round"/>
<path d="M1917.6,178.4 L1900.8,211.4 L1917.6,275.4Z" fill="#000" stroke="#000" stroke-width="2.2" stroke-linejoin="round"/>
<path d="M1917.6,178.4 L1884.6,195.2 L1820.6,178.4Z" fill="#fff" stroke="#000" stroke-width="2.2" stroke-linejoin="round"/>
<path d="M1917.6,178.4 L1884.6,161.6 L1820.6,178.4Z" fill="#000" stroke="#000" stroke-width="2.2" stroke-linejoin="round"/>
<text x="1917.6" y="73.5" text-anchor="middle" font-size="50" font-family="Liberation Serif, serif" fill="#000">N</text>
<text x="1917.6" y="319" text-anchor="middle" font-size="50" font-family="Liberation Serif, serif" fill="#000">S</text>
<text x="1778" y="196" font-size="50" textLength="40" lengthAdjust="spacingAndGlyphs" font-family="Liberation Serif, serif" fill="#000">W</text>
<text x="2016" y="199" font-size="50" textLength="32" lengthAdjust="spacingAndGlyphs" font-family="Liberation Serif, serif" fill="#000">E</text>
<linearGradient id="cbg" x1="0" y1="0" x2="0" y2="1"><stop offset="0.0000" stop-color="#0000ff"/><stop offset="0.0455" stop-color="#0a1ef0"/><stop offset="0.0909" stop-color="#1848d8"/><stop offset="0.1364" stop-color="#2274c0"/><stop offset="0.1818" stop-color="#2c9ca8"/><stop offset="0.2273" stop-color="#38bc94"/><stop offset="0.2727" stop-color="#44d680"/><stop offset="0.3182" stop-color="#4ef06a"/><stop offset="0.3636" stop-color="#58ff58"/><stop offset="0.4091" stop-color="#84f840"/><stop offset="0.4545" stop-color="#aef42c"/><stop offset="0.5000" stop-color="#d4f21c"/><stop offset="0.5455" stop-color="#f6f202"/><stop offset="0.5568" stop-color="#fff000"/><stop offset="0.5909" stop-color="#ffdc00"/><stop offset="0.6364" stop-color="#ffc000"/><stop offset="0.6818" stop-color="#ffa800"/><stop offset="0.7273" stop-color="#ff9000"/><stop offset="0.7727" stop-color="#ff7400"/><stop offset="0.8182" stop-color="#ff5800"/><stop offset="0.8636" stop-color="#ff4000"/><stop offset="0.9091" stop-color="#ff2800"/><stop offset="0.9545" stop-color="#ff1400"/><stop offset="1.0000" stop-color="#ff0000"/></linearGradient>
<rect x="1864.3" y="636.4" width="61.4" height="989.4" fill="url(#cbg)" stroke="#3a3a3a" stroke-width="1.5"/>
<path d="M1926 636.4H1953.6M1926 726.3H1953.6M1926 816.3H1953.6M1926 906.2H1953.6M1926 996.2H1953.6M1926 1086.1H1953.6M1926 1176.1H1953.6M1926 1266.0H1953.6M1926 1356.0H1953.6M1926 1445.9H1953.6M1926 1535.9H1953.6M1926 1625.8H1953.6" stroke="#808080" stroke-width="2.2"/>
<g font-family="Liberation Serif, serif" fill="#231f20">
<text x="1981.5" y="666.7" font-size="70">40</text>
<text x="1981.5" y="756.6" font-size="70">32</text>
<text x="1981.5" y="846.6" font-size="70">24</text>
<text x="1981.5" y="936.5" font-size="70">16</text>
<text x="1981.5" y="1026.5" font-size="70">8</text>
<text x="1981.5" y="1116.4" font-size="70">0</text>
<text x="1981" y="1193.4" font-size="64.5">−8</text>
<text x="1981" y="1283.3" font-size="64.5">−16</text>
<text x="1981" y="1373.3" font-size="64.5">−24</text>
<text x="1981" y="1463.2" font-size="64.5">−32</text>
<text x="1981" y="1553.2" font-size="64.5">−40</text>
<text x="1981" y="1643.1" font-size="64.5">−48</text>
</g>
<path d="M336.7 1792V2482M526.7 1792V2482M721.4 1792V2482M914.6 1792V2482M1104.6 1792V2482M1299.3 1792V2482M1492.9 1792V2482M1684.4 1792V2482M1878.8 1792V2482M2071.8 1792V2482M207.7 1871.8H2151.5M207.7 1968.3H2151.5M207.7 2064.9H2151.5M207.7 2161.4H2151.5M207.7 2257.9H2151.5M207.7 2354.4H2151.5M207.7 2451.0H2151.5" stroke="#b0b0b0" stroke-width="2.2" fill="none"/>
<polyline points="292.1,1822.1 760,1953.2 905,1999 918,2004.5 975,2010.5 1033,2025.7 1120,2058 1200,2089.3 1247.3,2109 1279.5,2117 1299.4,2125 1420,2171 1492.9,2201.8 1628.6,2260.7 1685.7,2287.5 1757,2318 1855.6,2365.7 1875.5,2374.5 1908,2383.5 1970,2413.4 2024,2441 2064.5,2453" fill="none" stroke="#000080" stroke-width="8.5" stroke-linejoin="round"/>
<polyline points="297.5,1873.6 317.1,1885.7 335.7,1884.3 354.6,1870.7 373.9,1903.6 392.9,1885.4 411.8,1903.2 430.7,1884.6 450.0,1842.1 468.6,1844.6 487.9,1852.1 506.8,1905.7 525.7,1864.6 544.6,1903.9 563.6,1889.6 582.5,1888.2 601.8,1873.6 620.7,1919.3 640.0,1848.9 658.9,1867.1 677.9,1881.8 696.8,1919.3 715.7,1865.0 734.6,1885.7 753.6,1858.6 772.9,1907.5 791.8,1937.1 810.7,1928.9 829.6,1929.6 848.9,1950.4 867.9,1978.2 886.8,1966.8 905.8,1993.6 924.6,1982.4 981.8,2034.2 1001.0,2046.7 1019.9,2049.0 1038.7,2036.1 1057.9,2064.9 1076.7,2054.0 1095.8,2062.0 1114.4,2072.4 1133.6,2101.1 1152.9,2092.5 1171.8,2102.9 1190.7,2098.5 1209.8,2139.5 1228.6,2080.3 1247.8,2078.5 1285.8,2171.5 1304.8,2112.5 1323.8,2089.7 1342.8,2175.8 1361.8,2132.8 1380.8,2177.1 1400.0,2157.1 1418.9,2188.6 1437.9,2197.1 1456.8,2219.3 1475.7,2223.9 1494.6,2247.1 1513.6,2228.9 1532.5,2256.1 1551.8,2270.4 1570.7,2289.3 1589.6,2279.3 1608.9,2301.8 1627.9,2318.9 1647.0,2309.4 1666.0,2306.0 1685.0,2309.4 1703.8,2292.5 1722.9,2314.0 1741.8,2314.3 1760.7,2287.3 1779.6,2325.3 1798.5,2322.6 1817.8,2321.0 1836.7,2319.3 1855.7,2359.1 1874.7,2376.5 1912.7,2391.4 1931.8,2352.0 1950.9,2385.1 1969.8,2409.7 1988.8,2416.4 2007.7,2399.3 2026.9,2392.2 2065.1,2441.4" fill="none" stroke="#ff7f50" stroke-width="3" stroke-dasharray="0.5 9" stroke-linecap="round"/>
<g fill="#ff0000"><circle cx="297.5" cy="1873.6" r="9"/><circle cx="317.1" cy="1885.7" r="9"/><circle cx="335.7" cy="1884.3" r="9"/><circle cx="354.6" cy="1870.7" r="9"/><circle cx="373.9" cy="1903.6" r="9"/><circle cx="392.9" cy="1885.4" r="9"/><circle cx="411.8" cy="1903.2" r="9"/><circle cx="430.7" cy="1884.6" r="9"/><circle cx="450.0" cy="1842.1" r="9"/><circle cx="468.6" cy="1844.6" r="9"/><circle cx="487.9" cy="1852.1" r="9"/><circle cx="506.8" cy="1905.7" r="9"/><circle cx="525.7" cy="1864.6" r="9"/><circle cx="544.6" cy="1903.9" r="9"/><circle cx="563.6" cy="1889.6" r="9"/><circle cx="582.5" cy="1888.2" r="9"/><circle cx="601.8" cy="1873.6" r="9"/><circle cx="620.7" cy="1919.3" r="9"/><circle cx="640.0" cy="1848.9" r="9"/><circle cx="658.9" cy="1867.1" r="9"/><circle cx="677.9" cy="1881.8" r="9"/><circle cx="696.8" cy="1919.3" r="9"/><circle cx="715.7" cy="1865.0" r="9"/><circle cx="734.6" cy="1885.7" r="9"/><circle cx="753.6" cy="1858.6" r="9"/><circle cx="772.9" cy="1907.5" r="9"/><circle cx="791.8" cy="1937.1" r="9"/><circle cx="810.7" cy="1928.9" r="9"/><circle cx="829.6" cy="1929.6" r="9"/><circle cx="848.9" cy="1950.4" r="9"/><circle cx="867.9" cy="1978.2" r="9"/><circle cx="886.8" cy="1966.8" r="9"/><circle cx="905.8" cy="1993.6" r="9"/><circle cx="924.6" cy="1982.4" r="9"/><circle cx="981.8" cy="2034.2" r="9"/><circle cx="1001.0" cy="2046.7" r="9"/><circle cx="1019.9" cy="2049.0" r="9"/><circle cx="1038.7" cy="2036.1" r="9"/><circle cx="1057.9" cy="2064.9" r="9"/><circle cx="1076.7" cy="2054.0" r="9"/><circle cx="1095.8" cy="2062.0" r="9"/><circle cx="1114.4" cy="2072.4" r="9"/><circle cx="1133.6" cy="2101.1" r="9"/><circle cx="1152.9" cy="2092.5" r="9"/><circle cx="1171.8" cy="2102.9" r="9"/><circle cx="1190.7" cy="2098.5" r="9"/><circle cx="1209.8" cy="2139.5" r="9"/><circle cx="1228.6" cy="2080.3" r="9"/><circle cx="1247.8" cy="2078.5" r="9"/><circle cx="1285.8" cy="2171.5" r="9"/><circle cx="1304.8" cy="2112.5" r="9"/><circle cx="1323.8" cy="2089.7" r="9"/><circle cx="1342.8" cy="2175.8" r="9"/><circle cx="1361.8" cy="2132.8" r="9"/><circle cx="1380.8" cy="2177.1" r="9"/><circle cx="1400.0" cy="2157.1" r="9"/><circle cx="1418.9" cy="2188.6" r="9"/><circle cx="1437.9" cy="2197.1" r="9"/><circle cx="1456.8" cy="2219.3" r="9"/><circle cx="1475.7" cy="2223.9" r="9"/><circle cx="1494.6" cy="2247.1" r="9"/><circle cx="1513.6" cy="2228.9" r="9"/><circle cx="1532.5" cy="2256.1" r="9"/><circle cx="1551.8" cy="2270.4" r="9"/><circle cx="1570.7" cy="2289.3" r="9"/><circle cx="1589.6" cy="2279.3" r="9"/><circle cx="1608.9" cy="2301.8" r="9"/><circle cx="1627.9" cy="2318.9" r="9"/><circle cx="1647.0" cy="2309.4" r="9"/><circle cx="1666.0" cy="2306.0" r="9"/><circle cx="1685.0" cy="2309.4" r="9"/><circle cx="1703.8" cy="2292.5" r="9"/><circle cx="1722.9" cy="2314.0" r="9"/><circle cx="1741.8" cy="2314.3" r="9"/><circle cx="1760.7" cy="2287.3" r="9"/><circle cx="1779.6" cy="2325.3" r="9"/><circle cx="1798.5" cy="2322.6" r="9"/><circle cx="1817.8" cy="2321.0" r="9"/><circle cx="1836.7" cy="2319.3" r="9"/><circle cx="1855.7" cy="2359.1" r="9"/><circle cx="1874.7" cy="2376.5" r="9"/><circle cx="1912.7" cy="2391.4" r="9"/><circle cx="1931.8" cy="2352.0" r="9"/><circle cx="1950.9" cy="2385.1" r="9"/><circle cx="1969.8" cy="2409.7" r="9"/><circle cx="1988.8" cy="2416.4" r="9"/><circle cx="2007.7" cy="2399.3" r="9"/><circle cx="2026.9" cy="2392.2" r="9"/><circle cx="2065.1" cy="2441.4" r="9"/></g>
<rect x="207.7" y="1792" width="1943.8" height="690" fill="none" stroke="#000" stroke-width="5"/>
<path d="M198.7 1871.8H207.7M198.7 1968.3H207.7M198.7 2064.9H207.7M198.7 2161.4H207.7M198.7 2257.9H207.7M198.7 2354.4H207.7M198.7 2451.0H207.7M336.7 2482V2491M526.7 2482V2491M721.4 2482V2491M914.6 2482V2491M1104.6 2482V2491M1299.3 2482V2491M1492.9 2482V2491M1684.4 2482V2491M1878.8 2482V2491M2071.8 2482V2491" stroke="#000" stroke-width="4.5"/>
<g font-family="Liberation Serif, serif" font-size="46.5" fill="#2a2526" text-anchor="end">
<text x="184.5" y="1886.3">0</text>
<text x="184.5" y="1982.8">−10</text>
<text x="184.5" y="2079.4">−20</text>
<text x="184.5" y="2175.9">−30</text>
<text x="184.5" y="2272.4">−40</text>
<text x="184.5" y="2368.9">−50</text>
<text x="184.5" y="2465.5">−60</text>
</g>
<g font-family="Liberation Serif, serif" font-size="47" fill="#2a2526">
<text x="247.4" y="2605.8" transform="rotate(-29.5 247.4 2605.8)">2018-01</text>
<text x="437.4" y="2605.8" transform="rotate(-29.5 437.4 2605.8)">2018-05</text>
<text x="632.1" y="2605.8" transform="rotate(-29.5 632.1 2605.8)">2018-09</text>
<text x="825.3" y="2605.8" transform="rotate(-29.5 825.3 2605.8)">2019-01</text>
<text x="1015.3" y="2605.8" transform="rotate(-29.5 1015.3 2605.8)">2019-05</text>
<text x="1210.0" y="2605.8" transform="rotate(-29.5 1210.0 2605.8)">2019-09</text>
<text x="1403.6" y="2605.8" transform="rotate(-29.5 1403.6 2605.8)">2020-01</text>
<text x="1595.1" y="2605.8" transform="rotate(-29.5 1595.1 2605.8)">2020-05</text>
<text x="1789.5" y="2605.8" transform="rotate(-29.5 1789.5 2605.8)">2020-09</text>
<text x="1982.5" y="2605.8" transform="rotate(-29.5 1982.5 2605.8)">2021-01</text>
</g>
<text x="0" y="0" transform="translate(68 2173) rotate(-90)" text-anchor="middle" font-family="Liberation Serif, serif" font-size="60" fill="#2a2526">Subsidence(mm)</text>
<text x="21" y="1902" font-family="Liberation Serif, serif" font-size="58" fill="#333">(b)</text>
<rect x="1786.5" y="1803" width="352" height="126.5" rx="9" fill="#fff" fill-opacity="0.8" stroke="#d4d4d4" stroke-width="3"/>
<rect x="1799.3" y="1827.3" width="74.2" height="17.5" fill="#000080"/>
<rect x="1799.3" y="1891" width="74.2" height="11" fill="#ff7f50"/>
<circle cx="1845.8" cy="1896.7" r="9.5" fill="#ff0000"/>
<text x="1895" y="1854.3" font-family="Liberation Serif, serif" font-size="46" textLength="231" lengthAdjust="spacing" fill="#2a2526">Fitted curve</text>
<text x="1970.5" y="1907.5" font-family="Liberation Serif, serif" font-size="46" textLength="44" lengthAdjust="spacing" fill="#2a2526">P1</text>
<svg x="37.8" y="2685" width="696.6" height="604" viewBox="37.8 2685 696.6 604" overflow="hidden">
<rect x="37.8" y="2685" width="696.6" height="604" fill="#a4a8a8"/>
<rect x="74" y="2685" width="197" height="42" fill="#857a64"/>
<rect x="338" y="2685" width="400" height="47" fill="#7e735e"/>
<rect x="345" y="2700" width="390" height="3" fill="#9a8e74"/>
<rect x="38" y="2727" width="700" height="80" fill="#a0a6aa"/>
<rect x="338" y="2732" width="400" height="8" fill="#c4c8c6"/>
<rect x="338" y="2772" width="400" height="8" fill="#bcc0bc"/>
<rect x="338" y="2741" width="400" height="30" fill="#969ca0"/>
<rect x="38" y="2685" width="40" height="604" fill="#aeb2b2"/>
<rect x="55" y="2800" width="6" height="420" fill="#8e9496"/>
<rect x="271" y="2790" width="67" height="500" fill="#b2b6b8"/>
<rect x="290" y="2810" width="3" height="400" fill="#9a9ea0"/>
<rect x="315" y="2810" width="3" height="400" fill="#9a9ea0"/>
<polygon points="100,2790 250,2790 272,2815 272,3175 250,3205 100,3205 80,3180 80,2815" fill="#837860"/>
<polygon points="105,2793 248,2793 266,2815 266,3070 85,3070 85,2815" fill="#4a5454"/>
<rect x="95" y="2818" width="48" height="64" fill="#c4d2de"/>
<rect x="150" y="2814" width="26" height="68" fill="#ccd8e4"/>
<rect x="184" y="2814" width="28" height="68" fill="#c6d4e0"/>
<rect x="212" y="2814" width="48" height="68" fill="#c0ced8"/>
<rect x="95" y="2886" width="30" height="46" fill="#c2d2dc"/>
<rect x="147" y="2886" width="28" height="46" fill="#c8d6e0"/>
<rect x="184" y="2886" width="28" height="46" fill="#c2d0da"/>
<rect x="240" y="2886" width="26" height="46" fill="#c6d4dc"/>
<rect x="90" y="2934" width="44" height="22" fill="#bccad2"/>
<rect x="136" y="2934" width="34" height="22" fill="#aebac2"/>
<rect x="176" y="2934" width="64" height="22" fill="#b4c0c8"/>
<rect x="80" y="2958" width="50" height="30" fill="#b8c6ce"/>
<rect x="132" y="2958" width="36" height="30" fill="#aab6ba"/>
<rect x="176" y="2958" width="40" height="30" fill="#bfccd4"/>
<rect x="220" y="2958" width="44" height="30" fill="#bccad2"/>
<rect x="74" y="2990" width="32" height="34" fill="#9ad6e6"/>
<rect x="108" y="2990" width="20" height="34" fill="#b0c0c8"/>
<rect x="134" y="2990" width="32" height="34" fill="#a0dae8"/>
<rect x="175" y="2990" width="30" height="34" fill="#c2d2da"/>
<rect x="240" y="2990" width="24" height="34" fill="#bccad2"/>
<rect x="67" y="3026" width="36" height="52" fill="#a6dcec"/>
<rect x="118" y="3026" width="44" height="52" fill="#a0d8e8"/>
<rect x="172" y="3026" width="34" height="52" fill="#acdeea"/>
<rect x="232" y="3026" width="30" height="52" fill="#bcd0d8"/>
<polygon points="42,3075 270,3075 270,3190 250,3210 60,3210 42,3190" fill="#8a7e6c"/>
<rect x="51" y="3083" width="41" height="28" fill="#5058c0"/>
<rect x="135" y="3129" width="53" height="78" fill="#4c54c4"/>
<rect x="135" y="3150" width="53" height="4" fill="#2c3070"/>
<rect x="135" y="3175" width="53" height="4" fill="#2c3070"/>
<rect x="191" y="3129" width="64" height="78" fill="#5058c8"/>
<rect x="205" y="3145" width="35" height="45" fill="#d8dcdc"/>
<rect x="78" y="3157" width="55" height="36" fill="#4e56c4"/>
<rect x="120" y="3100" width="45" height="25" fill="#c0d8e0"/>
<rect x="42" y="3205" width="230" height="20" fill="#c4c8c4"/>
<rect x="38" y="3225" width="700" height="64" fill="#a0a4a6"/>
<rect x="60" y="3250" width="660" height="4" fill="#7c8084"/>
<rect x="248" y="3205" width="88" height="84" fill="#b4b8ba"/>
<clipPath id="fieldclip"><polygon points="340,2785 735,2783 735,3000 650,3025 640,3112 560,3130 470,3110 420,3060 345,3040"/></clipPath>
<polygon points="338,2783 735,2783 735,3215 338,3215" fill="#9c8e72"/>
<polygon points="340,2785 735,2783 735,3000 650,3025 640,3112 560,3130 470,3110 420,3060 345,3040" fill="#454d38"/>
<polygon points="345,3000 420,3020 470,3110 560,3130 520,3170 430,3180 345,3185" fill="#3e4634"/>
<g stroke="#7c7558" stroke-width="2.6" fill="none" clip-path="url(#fieldclip)">
<line x1="-44" y1="2790" x2="256" y2="3100"/>
<line x1="20" y1="2790" x2="320" y2="3100"/>
<line x1="84" y1="2790" x2="384" y2="3100"/>
<line x1="148" y1="2790" x2="448" y2="3100"/>
<line x1="212" y1="2790" x2="512" y2="3100"/>
<line x1="276" y1="2790" x2="576" y2="3100"/>
<line x1="340" y1="2790" x2="640" y2="3100"/>
<line x1="404" y1="2790" x2="704" y2="3100"/>
<line x1="468" y1="2790" x2="768" y2="3100"/>
<line x1="532" y1="2790" x2="832" y2="3100"/>
<line x1="596" y1="2790" x2="896" y2="3100"/>
<line x1="660" y1="2790" x2="960" y2="3100"/>
<line x1="724" y1="2790" x2="1024" y2="3100"/>
<line x1="788" y1="2790" x2="1088" y2="3100"/>
<line x1="852" y1="2790" x2="1152" y2="3100"/>
<line x1="330" y1="3090" x2="630" y2="2790"/>
<line x1="394" y1="3090" x2="694" y2="2790"/>
<line x1="458" y1="3090" x2="758" y2="2790"/>
<line x1="522" y1="3090" x2="822" y2="2790"/>
<line x1="586" y1="3090" x2="886" y2="2790"/>
<line x1="650" y1="3090" x2="950" y2="2790"/>
<line x1="714" y1="3090" x2="1014" y2="2790"/>
<line x1="778" y1="3090" x2="1078" y2="2790"/>
<line x1="842" y1="3090" x2="1142" y2="2790"/>
<line x1="906" y1="3090" x2="1206" y2="2790"/>
<line x1="970" y1="3090" x2="1270" y2="2790"/>
<line x1="1034" y1="3090" x2="1334" y2="2790"/>
<line x1="1098" y1="3090" x2="1398" y2="2790"/>
<line x1="1162" y1="3090" x2="1462" y2="2790"/>
</g>
<polygon points="650,3025 735,3000 735,3110 645,3112" fill="#a89880"/>
<polygon points="420,3110 640,3112 640,3200 345,3200 345,3190 430,3180" fill="#9e9074"/>
<rect x="648" y="3111" width="90" height="24" fill="#30343a"/>
<rect x="659" y="3135" width="76" height="29" fill="#9ca0a2"/>
<rect x="688" y="3153" width="47" height="50" fill="#4a52d0"/>
<rect x="657" y="3164" width="32" height="66" fill="#e2e6e6"/>
<rect x="340" y="3208" width="320" height="18" fill="#d4d4cc"/>
</svg>
<rect x="63" y="2700" width="59" height="52" fill="#ffffff"/><text x="92.5" y="2738" text-anchor="middle" font-family="Liberation Serif, serif" font-size="50" fill="#000">c</text>
<text x="49.5" y="3258.5" font-family="Liberation Serif, serif" font-size="51" textLength="195" lengthAdjust="spacingAndGlyphs" fill="#f4f030" stroke="#b0a020" stroke-width="0.6">20161101</text>
<svg x="749" y="2686" width="695.7" height="603" viewBox="749 2686 695.7 603" overflow="hidden">
<rect x="749" y="2686" width="695.7" height="603" fill="#a2a6a6"/>
<rect x="784" y="2686" width="165" height="10" fill="#4e5a4c"/>
<rect x="749" y="2696" width="700" height="40" fill="#9ca2a4"/>
<rect x="1032" y="2728" width="413" height="18" fill="#5a6a58"/>
<rect x="749" y="2686" width="25" height="603" fill="#aaaeae"/>
<rect x="975" y="2780" width="57" height="509" fill="#a2a6a8"/>
<rect x="990" y="2780" width="2" height="480" fill="#c4c8c8"/>
<rect x="1012" y="2780" width="2" height="480" fill="#c4c8c8"/>
<polygon points="790,2756 950,2756 972,2780 972,3125 771,3125 771,2778" fill="#c2c6c2"/>
<polygon points="795,2764 945,2764 958,2780 958,3110 781,3110 781,2780" fill="#34363e"/>
<rect x="785" y="2768" width="70" height="38" fill="#4e5058"/>
<rect x="785" y="2806" width="28" height="75" fill="#505259"/>
<rect x="825" y="2810" width="35" height="72" fill="#52545c"/>
<rect x="873" y="2768" width="26" height="110" fill="#4c4e56"/>
<rect x="900" y="2768" width="55" height="50" fill="#505258"/>
<rect x="925" y="2820" width="30" height="60" fill="#4e5058"/>
<rect x="787" y="2888" width="42" height="33" fill="#52545a"/>
<rect x="836" y="2888" width="24" height="33" fill="#4a4c54"/>
<rect x="895" y="2890" width="55" height="33" fill="#4e5056"/>
<rect x="783" y="2928" width="42" height="42" fill="#505258"/>
<rect x="832" y="2928" width="28" height="42" fill="#52545a"/>
<rect x="875" y="2928" width="30" height="42" fill="#4c4e56"/>
<rect x="915" y="2928" width="42" height="42" fill="#505258"/>
<rect x="786" y="2975" width="25" height="55" fill="#4e5058"/>
<rect x="838" y="2975" width="22" height="60" fill="#52545a"/>
<rect x="875" y="2975" width="25" height="60" fill="#505258"/>
<rect x="905" y="2995" width="50" height="40" fill="#4e5058"/>
<rect x="776" y="3038" width="25" height="70" fill="#4c4e56"/>
<rect x="805" y="3080" width="38" height="28" fill="#4e5058"/>
<rect x="828" y="3038" width="32" height="70" fill="#505258"/>
<rect x="876" y="3038" width="30" height="70" fill="#4e5058"/>
<rect x="912" y="3065" width="40" height="43" fill="#52545a"/>
<rect x="930" y="3038" width="25" height="30" fill="#4e5058"/>
<rect x="818" y="2830" width="18" height="30" fill="#b4b6b4"/>
<rect x="900" y="2830" width="20" height="30" fill="#b4b6b4"/>
<rect x="850" y="2905" width="15" height="12" fill="#b4b6b4"/>
<rect x="880" y="2940" width="12" height="14" fill="#b4b6b4"/>
<rect x="920" y="3045" width="14" height="20" fill="#b4b6b4"/>
<rect x="812" y="3045" width="18" height="20" fill="#b4b6b4"/>
<rect x="867" y="2893" width="12" height="10" fill="#b4b6b4"/>
<rect x="779" y="3010" width="14" height="25" fill="#8a4838"/>
<rect x="771" y="3110" width="200" height="15" fill="#b4b6ae"/>
<polygon points="760,3132 972,3130 972,3240 940,3262 753,3262 753,3142" fill="#b29e84"/>
<rect x="910" y="3176" width="60" height="55" fill="#bcbcb8"/>
<rect x="930" y="3150" width="25" height="25" fill="#50504c"/>
<rect x="780" y="3140" width="60" height="40" fill="#a89478"/>
<rect x="753" y="3242" width="220" height="26" fill="#5a6a50"/>
<rect x="749" y="3265" width="700" height="24" fill="#9ea2a4"/>
<rect x="1037" y="2750" width="410" height="340" fill="#b8a486"/>
<polygon points="1048,2756 1290,2756 1305,2770 1305,3082 1041,3082 1041,2770" fill="#38383a"/>
<rect x="1041" y="2760" width="48" height="300" fill="#7c7a6c"/>
<pattern id="speck" width="23" height="19" patternUnits="userSpaceOnUse"><rect x="3" y="4" width="4" height="3" fill="#a8a49c"/><rect x="14" y="12" width="3" height="3" fill="#c8c4bc"/><rect x="9" y="15" width="2" height="2" fill="#8c8880"/></pattern>
<rect x="1092" y="2775" width="185" height="290" fill="url(#speck)" opacity="0.8"/>
<rect x="1048" y="2770" width="12" height="40" fill="#b0a040"/>
<rect x="1058" y="3020" width="14" height="40" fill="#c0a830"/>
<polygon points="1100,2775 1150,2775 1165,2860 1100,2870" fill="#5c5e62"/>
<rect x="1161" y="2878" width="78" height="75" fill="#9ea2a2"/>
<rect x="1180" y="2790" width="28" height="30" fill="#a0a0a0"/>
<rect x="1239" y="2993" width="59" height="75" fill="#b2b6b6"/>
<rect x="1093" y="2960" width="60" height="70" fill="#46443c"/>
<rect x="1165" y="2960" width="60" height="60" fill="#4a4640"/>
<rect x="1279" y="2771" width="20" height="300" fill="#141418"/>
<rect x="1299" y="2771" width="60" height="310" fill="#9ea2a8"/>
<rect x="1305" y="2790" width="50" height="8" fill="#6a6e74"/>
<rect x="1305" y="2818" width="50" height="8" fill="#6a6e74"/>
<rect x="1305" y="2846" width="50" height="8" fill="#6a6e74"/>
<rect x="1305" y="2874" width="50" height="8" fill="#6a6e74"/>
<rect x="1305" y="2902" width="50" height="8" fill="#6a6e74"/>
<rect x="1305" y="2930" width="50" height="8" fill="#6a6e74"/>
<rect x="1305" y="2958" width="50" height="8" fill="#6a6e74"/>
<rect x="1305" y="2986" width="50" height="8" fill="#6a6e74"/>
<rect x="1305" y="3014" width="50" height="8" fill="#6a6e74"/>
<rect x="1305" y="3042" width="50" height="8" fill="#6a6e74"/>
<g stroke="#a89a60" stroke-width="3" fill="none"><line x1="1095" y1="2790" x2="1200" y2="2880"/><line x1="1090" y1="2955" x2="1160" y2="2915"/><line x1="1093" y1="3050" x2="1150" y2="3000"/></g>
<rect x="1054" y="3085" width="78" height="65" fill="#d6dada"/>
<rect x="1054" y="3150" width="78" height="25" fill="#3a3c40"/>
<rect x="1132" y="3082" width="8" height="130" fill="#16181c"/>
<rect x="1140" y="3090" width="37" height="120" fill="#c8ccd0"/>
<rect x="1177" y="3095" width="67" height="24" fill="#c03030"/>
<rect x="1177" y="3119" width="67" height="78" fill="#423e42"/>
<rect x="1244" y="3094" width="75" height="22" fill="#b8bcbc"/>
<rect x="1244" y="3116" width="75" height="81" fill="#3c363a"/>
<rect x="1177" y="3197" width="142" height="12" fill="#a89a78"/>
<rect x="1040" y="3175" width="95" height="40" fill="#c4c8c8"/>
<rect x="1360" y="2760" width="85" height="330" fill="#bca686"/>
<rect x="1402" y="2988" width="14" height="22" fill="#3048c0"/>
<rect x="1418" y="3036" width="14" height="30" fill="#3048c0"/>
<rect x="1383" y="3082" width="41" height="83" fill="#b8bcc0"/>
<rect x="1383" y="3082" width="8" height="83" fill="#3850c8"/>
<rect x="1362" y="3151" width="62" height="19" fill="#3850c8"/>
<rect x="1340" y="3170" width="105" height="24" fill="#9a9c9c"/>
<rect x="1405" y="3194" width="40" height="43" fill="#4a78d8"/>
<rect x="1320" y="3090" width="40" height="120" fill="#b0a488"/>
<rect x="1032" y="3210" width="413" height="40" fill="#c6c4b4"/>
<circle cx="1045" cy="3222" r="8" fill="#3e5a3c"/>
<circle cx="1074" cy="3229" r="8" fill="#3e5a3c"/>
<circle cx="1103" cy="3236" r="8" fill="#3e5a3c"/>
<circle cx="1132" cy="3222" r="8" fill="#3e5a3c"/>
<circle cx="1161" cy="3229" r="8" fill="#3e5a3c"/>
<circle cx="1190" cy="3236" r="8" fill="#3e5a3c"/>
<circle cx="1219" cy="3222" r="8" fill="#3e5a3c"/>
<circle cx="1248" cy="3229" r="8" fill="#3e5a3c"/>
<circle cx="1277" cy="3236" r="8" fill="#3e5a3c"/>
<circle cx="1306" cy="3222" r="8" fill="#3e5a3c"/>
<circle cx="1335" cy="3229" r="8" fill="#3e5a3c"/>
<circle cx="1364" cy="3236" r="8" fill="#3e5a3c"/>
<circle cx="1393" cy="3222" r="8" fill="#3e5a3c"/>
<circle cx="1422" cy="3229" r="8" fill="#3e5a3c"/>
<rect x="1032" y="3250" width="413" height="39" fill="#9ca0a2"/>
</svg>
<rect x="792.7" y="2700" width="59" height="52" fill="#ffffff"/><text x="822.2" y="2738" text-anchor="middle" font-family="Liberation Serif, serif" font-size="50" fill="#000">d</text>
<text x="761.5" y="3258.5" font-family="Liberation Serif, serif" font-size="51" textLength="201" lengthAdjust="spacingAndGlyphs" fill="#f4f030" stroke="#b0a020" stroke-width="0.6">20181015</text>
<svg x="1458.4" y="2686" width="694.5999999999999" height="603" viewBox="1458.4 2686 694.5999999999999 603" overflow="hidden">
<rect x="1458.4" y="2686" width="694.5999999999999" height="603" fill="#b4b6b2"/>
<rect x="1478" y="2686" width="186" height="38" fill="#5a6a48"/>
<rect x="1458" y="2724" width="700" height="42" fill="#9a9ea0"/>
<rect x="1680" y="2686" width="480" height="40" fill="#c2b8a6"/>
<rect x="1800" y="2700" width="200" height="12" fill="#5a6a48"/>
<rect x="1458" y="2686" width="20" height="603" fill="#a8acac"/>
<rect x="1672" y="2766" width="95" height="523" fill="#8e9296"/>
<rect x="1690" y="2766" width="2" height="480" fill="#a8acb0"/>
<rect x="1745" y="2766" width="2" height="480" fill="#a8acb0"/>
<polygon points="1490,2774 1680,2774 1692,2790 1692,3110 1471,3110 1471,2790" fill="#c4c8c4"/>
<polygon points="1495,2782 1675,2782 1684,2795 1684,3100 1480,3100 1480,2795" fill="#2a2c32"/>
<rect x="1495" y="2787" width="58" height="50" fill="#4a4c52"/>
<rect x="1505" y="2837" width="28" height="60" fill="#4c4e54"/>
<rect x="1555" y="2835" width="30" height="55" fill="#4e5056"/>
<rect x="1590" y="2787" width="20" height="110" fill="#4a4c52"/>
<rect x="1612" y="2787" width="55" height="50" fill="#4c4e54"/>
<rect x="1638" y="2840" width="30" height="55" fill="#4e5056"/>
<rect x="1500" y="2896" width="50" height="42" fill="#4c4e54"/>
<rect x="1555" y="2895" width="28" height="42" fill="#4a4c52"/>
<rect x="1635" y="2895" width="45" height="42" fill="#4e5056"/>
<rect x="1490" y="2942" width="50" height="40" fill="#4a4c52"/>
<rect x="1555" y="2942" width="28" height="40" fill="#4c4e54"/>
<rect x="1598" y="2942" width="30" height="40" fill="#4e5056"/>
<rect x="1640" y="2942" width="40" height="40" fill="#4a4c52"/>
<rect x="1495" y="2985" width="25" height="50" fill="#4c4e54"/>
<rect x="1552" y="2985" width="30" height="60" fill="#4e5056"/>
<rect x="1595" y="2985" width="28" height="60" fill="#4a4c52"/>
<rect x="1625" y="2995" width="55" height="40" fill="#4c4e54"/>
<rect x="1485" y="3040" width="28" height="58" fill="#4a4c52"/>
<rect x="1540" y="3035" width="38" height="60" fill="#4e5056"/>
<rect x="1595" y="3025" width="30" height="70" fill="#4c4e54"/>
<rect x="1640" y="3035" width="38" height="45" fill="#4a4c52"/>
<rect x="1535" y="2830" width="18" height="28" fill="#c0c2c0"/>
<rect x="1618" y="2848" width="22" height="28" fill="#c0c2c0"/>
<rect x="1565" y="2910" width="15" height="14" fill="#c0c2c0"/>
<rect x="1600" y="2935" width="14" height="14" fill="#c0c2c0"/>
<rect x="1520" y="2995" width="28" height="40" fill="#c0c2c0"/>
<rect x="1640" y="3025" width="18" height="20" fill="#c0c2c0"/>
<rect x="1486" y="3003" width="14" height="30" fill="#8a5040"/>
<rect x="1463" y="3105" width="215" height="160" fill="#c4c8c4"/>
<polygon points="1465,3115 1535,3112 1540,3160 1505,3180 1465,3190" fill="#2e4a30"/>
<polygon points="1612,3100 1678,3100 1678,3145 1620,3160 1600,3140" fill="#2e4a30"/>
<polygon points="1465,3200 1560,3190 1565,3245 1465,3250" fill="#2c4630"/>
<polygon points="1575,3190 1640,3175 1648,3225 1580,3235" fill="#2e4a30"/>
<polygon points="1645,3120 1678,3110 1678,3170 1650,3180" fill="#30502f"/>
<rect x="1640" y="3200" width="40" height="35" fill="#d0d4d0"/>
<rect x="1458" y="3262" width="700" height="27" fill="#9a9ea0"/>
<rect x="1767" y="2766" width="60" height="400" fill="#c8c4c0"/>
<rect x="1762" y="2800" width="20" height="120" fill="#2e5032"/>
<rect x="1765" y="2940" width="12" height="110" fill="#2e5032"/>
<rect x="1778" y="3060" width="8" height="25" fill="#d04040"/>
<circle cx="1790" cy="3036" r="5" fill="#f0f040"/>
<ellipse cx="1770" cy="3095" rx="10" ry="15" fill="#2e4a30"/>
<ellipse cx="1770" cy="3130" rx="10" ry="15" fill="#2e4a30"/>
<ellipse cx="1770" cy="3165" rx="10" ry="15" fill="#2e4a30"/>
<polygon points="1812,2772 1840,2758 1985,2758 1985,2782 1840,2785 1830,2800 1828,3058 1812,3040" fill="#14161a"/>
<polygon points="1835,2770 2040,2770 2048,2790 2048,3050 2035,3062 1860,3062 1830,3040 1825,2795" fill="#ced2ce"/>
<rect x="1943" y="2805" width="65" height="58" fill="#2c5a34"/>
<rect x="1961" y="2868" width="60" height="47" fill="#2c5a34"/>
<rect x="1990" y="2936" width="47" height="57" fill="#2c5a34"/>
<rect x="1901" y="2821" width="39" height="21" fill="#2c5a34"/>
<rect x="1965" y="2820" width="25" height="18" fill="#dadada"/>
<rect x="1833" y="2910" width="34" height="26" fill="#305878"/>
<ellipse cx="1864" cy="2817" rx="27" ry="9" transform="rotate(40 1864 2817)" fill="#6a9aa6" stroke="#c8dcdc" stroke-width="1.5"/>
<ellipse cx="1888" cy="2860" rx="15" ry="20" transform="rotate(0 1888 2860)" fill="#6a9aa6" stroke="#c8dcdc" stroke-width="1.5"/>
<ellipse cx="1927" cy="2867" rx="14" ry="8" transform="rotate(20 1927 2867)" fill="#6a9aa6" stroke="#c8dcdc" stroke-width="1.5"/>
<ellipse cx="1956" cy="2889" rx="13" ry="8" transform="rotate(45 1956 2889)" fill="#6a9aa6" stroke="#c8dcdc" stroke-width="1.5"/>
<ellipse cx="1970" cy="2927" rx="21" ry="21" transform="rotate(0 1970 2927)" fill="#6a9aa6" stroke="#c8dcdc" stroke-width="1.5"/>
<ellipse cx="1892" cy="2907" rx="9" ry="21" transform="rotate(0 1892 2907)" fill="#6a9aa6" stroke="#c8dcdc" stroke-width="1.5"/>
<ellipse cx="1893" cy="2945" rx="9" ry="21" transform="rotate(0 1893 2945)" fill="#6a9aa6" stroke="#c8dcdc" stroke-width="1.5"/>
<ellipse cx="1890" cy="2991" rx="18" ry="17" transform="rotate(0 1890 2991)" fill="#6a9aa6" stroke="#c8dcdc" stroke-width="1.5"/>
<ellipse cx="1930" cy="3004" rx="18" ry="9" transform="rotate(0 1930 3004)" fill="#6a9aa6" stroke="#c8dcdc" stroke-width="1.5"/>
<ellipse cx="1964" cy="2996" rx="14" ry="10" transform="rotate(-30 1964 2996)" fill="#6a9aa6" stroke="#c8dcdc" stroke-width="1.5"/>
<ellipse cx="1982" cy="2965" rx="11" ry="17" transform="rotate(0 1982 2965)" fill="#6a9aa6" stroke="#c8dcdc" stroke-width="1.5"/>
<ellipse cx="1867" cy="3017" rx="16" ry="12" transform="rotate(-30 1867 3017)" fill="#6a9aa6" stroke="#c8dcdc" stroke-width="1.5"/>
<ellipse cx="2003" cy="2918" rx="7" ry="7" transform="rotate(0 2003 2918)" fill="#6a9aa6" stroke="#c8dcdc" stroke-width="1.5"/>
<rect x="1864" y="3061" width="21" height="115" fill="#16181c"/>
<rect x="1885" y="3066" width="173" height="110" fill="#d0d2ce"/>
<rect x="1885" y="3066" width="35" height="110" fill="#c4ccc8"/>
<rect x="1940" y="3090" width="95" height="50" fill="#c8cac6"/>
<rect x="2045" y="2766" width="110" height="400" fill="#c2baa8"/>
<rect x="2047" y="2785" width="12" height="120" fill="#222428"/>
<rect x="2097" y="2774" width="26" height="350" fill="#141518"/>
<rect x="2123" y="2780" width="32" height="95" fill="#d2ccc0"/>
<rect x="2123" y="2920" width="32" height="20" fill="#141518"/>
<rect x="2123" y="2990" width="32" height="30" fill="#c09a84"/>
<rect x="2065" y="2870" width="30" height="60" fill="#8a8880"/>
<rect x="2097" y="3134" width="56" height="34" fill="#4060c8"/>
<rect x="2123" y="3175" width="30" height="35" fill="#4868c0"/>
<rect x="2045" y="3166" width="110" height="40" fill="#c6c2b8"/>
<ellipse cx="1775" cy="3225" rx="18" ry="9" fill="#2e4a2e"/>
<ellipse cx="1807" cy="3235" rx="18" ry="9" fill="#2e4a2e"/>
<ellipse cx="1839" cy="3225" rx="18" ry="9" fill="#2e4a2e"/>
<ellipse cx="1871" cy="3235" rx="18" ry="9" fill="#2e4a2e"/>
<ellipse cx="1903" cy="3225" rx="18" ry="9" fill="#2e4a2e"/>
<ellipse cx="1935" cy="3235" rx="18" ry="9" fill="#2e4a2e"/>
<ellipse cx="1967" cy="3225" rx="18" ry="9" fill="#2e4a2e"/>
<ellipse cx="1999" cy="3235" rx="18" ry="9" fill="#2e4a2e"/>
<ellipse cx="2031" cy="3225" rx="18" ry="9" fill="#2e4a2e"/>
<ellipse cx="2063" cy="3235" rx="18" ry="9" fill="#2e4a2e"/>
<ellipse cx="2095" cy="3225" rx="18" ry="9" fill="#2e4a2e"/>
<ellipse cx="2127" cy="3235" rx="18" ry="9" fill="#2e4a2e"/>
<rect x="1767" y="3254" width="390" height="35" fill="#9a9ea0"/>
</svg>
<rect x="1490" y="2700" width="62" height="51" fill="#ffffff"/><text x="1521.0" y="2737" text-anchor="middle" font-family="Liberation Serif, serif" font-size="50" fill="#000">e</text>
<text x="1468.5" y="3258.5" font-family="Liberation Serif, serif" font-size="51" textLength="201" lengthAdjust="spacingAndGlyphs" fill="#f4f030" stroke="#b0a020" stroke-width="0.6">20200905</text>
</svg></body></html>
